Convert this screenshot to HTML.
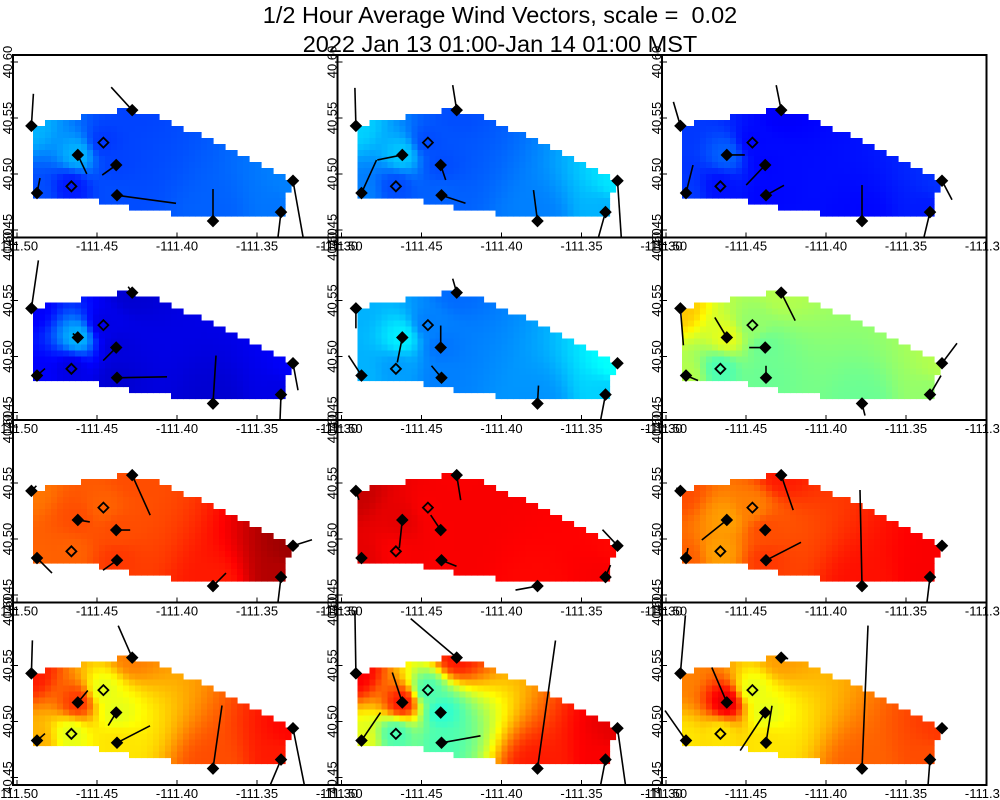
<!DOCTYPE html>
<html><head><meta charset="utf-8"><style>
body{margin:0;background:#fff;}
svg{display:block;font-family:"Liberation Sans",sans-serif;}
</style></head><body>
<svg id="chart" width="1000" height="800" viewBox="0 0 1000 800">
<text x="500" y="23" text-anchor="middle" font-size="23.5" xml:space="preserve">1/2 Hour Average Wind Vectors, scale =  0.02</text>
<text x="500" y="52" text-anchor="middle" font-size="23.5">2022 Jan 13 01:00-Jan 14 01:00 MST</text>
<g id="panels"></g>
</svg>
<script>
const stationLons=[-111.491,-111.428,-111.446,-111.462,-111.438,-111.466,-111.4875,-111.4375,-111.3775,-111.335,-111.3275];
const stationLats=[40.543,40.557,40.528,40.517,40.508,40.489,40.483,40.481,40.458,40.466,40.494];
const stationFilled=[1,1,0,1,1,0,1,1,1,1,1];
const xTicks=[-111.50,-111.45,-111.40,-111.35,-111.30];
const xTickLabels=["-111.50","-111.45","-111.40","-111.35","-111.30"];
const yTicks=[40.45,40.50,40.55,40.60];
const yTickLabels=["40.45","40.50","40.55","40.60"];
// colour values (0..1 on jet scale) per panel per station
const vals1=[.30,.19,.18,.30,.19,.15,.20,.20,.22,.24,.25];
const vals2=[.33,.20,.20,.32,.20,.20,.25,.22,.25,.30,.35];
const vals3=[.18,.12,.13,.22,.13,.14,.18,.13,.13,.15,.17];
const vals4=[.12,.08,.10,.30,.09,.10,.12,.08,.08,.10,.12];
const vals5=[.30,.23,.25,.36,.24,.28,.30,.25,.27,.33,.38];
const vals6=[.68,.55,.52,.60,.48,.45,.55,.48,.48,.52,.55];
const vals7=[.76,.80,.78,.80,.80,.78,.78,.82,.85,.95,.97];
const vals8=[.93,.88,.88,.90,.88,.88,.90,.88,.87,.88,.87];
const vals9=[.80,.85,.75,.72,.80,.72,.78,.82,.86,.88,.88];
const vals10=[.85,.75,.60,.82,.60,.60,.70,.65,.80,.85,.87];
const vals11=[.88,.85,.45,.85,.42,.45,.60,.45,.85,.88,.90];
const vals12=[.75,.72,.60,.90,.60,.65,.65,.65,.78,.80,.82];
const panelVals=[vals1,vals2,vals3,vals4,vals5,vals6,vals7,vals8,vals9,vals10,vals11,vals12];
// wind vector components (screen units) per panel per station
const u1=[2,-21,0,9,-14,0,3,59,0,-3,10], v1=[-32,-23,0,19,10,0,-15,8,-32,25,56];
const u2=[-1,-4,0,-25,5,0,15,24,-4,-7,4], v2=[-38,-25,0,5,15,0,-33,8,-31,25,60];
const u3=[-7,-5,0,18,-19,0,7,18,0,-6,10], v3=[-24,-25,0,0,20,0,-28,-10,-36,25,19];
const u4=[7,-4,0,-5,-13,0,8,50,3,-1,5], v4=[-48,-6,0,-4,13,0,-7,-1,-48,26,27];
const u5=[0,-4,0,-5,0,0,-13,-10,1,-5,2], v5=[20,-14,0,25,-22,0,-20,-12,-18,26,-3];
const u6=[3,14,0,-12,-16,0,12,0,3,11,15], v6=[37,28,0,-20,0,0,5,-12,12,-19,-20];
const u7=[5,18,0,12,14,0,15,-14,13,-3,19], v7=[-5,40,0,2,0,0,15,10,-13,25,-6];
const u8=[3,4,0,-3,-10,0,0,15,-22,5,-15], v8=[9,25,0,28,-15,0,0,6,4,-12,-16];
const u9=[-4,12,0,-25,0,0,2,35,-2,-3,0], v9=[-3,35,0,20,0,0,-10,-18,-96,25,0];
const u10=[1,-14,0,10,-8,0,8,33,9,-11,12], v10=[-33,-32,0,-12,13,0,-7,-17,-63,26,60];
const u11=[-1,-46,0,-10,0,0,19,39,18,-5,8], v11=[-63,-39,0,-30,0,0,-28,-7,-128,26,57];
const u12=[5,7,0,-15,-25,0,-21,6,6,-2,0], v12=[-58,1,0,-35,38,0,-30,-37,-143,26,0];
const panelU=[u1,u2,u3,u4,u5,u6,u7,u8,u9,u10,u11,u12];
const panelV=[v1,v2,v3,v4,v5,v6,v7,v8,v9,v10,v11,v12];

const NS="http://www.w3.org/2000/svg";
const COLW=324.5, ROWH=182.5;
function xScale(lon,col){return 17+col*COLW+(lon+111.5)*1600;}
function yScale(lat,row){return 174+row*ROWH-(lat-40.5)*1120;}
function jet(t){t=Math.max(0,Math.min(1,t));
 const r=Math.max(0,Math.min(1,1.5-Math.abs(4*t-3)));
 const g=Math.max(0,Math.min(1,1.5-Math.abs(4*t-2)));
 const b=Math.max(0,Math.min(1,1.5-Math.abs(4*t-1)));
 return `rgb(${Math.round(r*255)},${Math.round(g*255)},${Math.round(b*255)})`;}
const poly=[[35,125],[60,121],[100,114],[125,110],[145,112],[200,135],[290,179],[290,195],[283,195],[283,214],[200,215],[160,212],[120,205],[80,198],[50,196],[35,195]];
function inside(x,y){let c=false;for(let i=0,j=poly.length-1;i<poly.length;j=i++){const [xi,yi]=poly[i],[xj,yj]=poly[j];
 if(((yi>y)!=(yj>y))&&(x<(xj-xi)*(y-yi)/(yj-yi)+xi))c=!c;}return c;}
function mk(tag,attrs,parent){const e=document.createElementNS(NS,tag);for(const k in attrs)e.setAttribute(k,attrs[k]);parent.appendChild(e);return e;}

const root=document.getElementById('panels');
const defs=mk('defs',{},root);
for(let p=0;p<12;p++){
 const col=p%3,row=Math.floor(p/3);
 const fx=13+col*COLW, fy=55+row*ROWH;
 const cp=mk('clipPath',{id:'cp'+p},defs);
 mk('rect',{x:fx,y:fy,width:COLW,height:ROWH},cp);
 const g=mk('g',{'clip-path':`url(#cp${p})`},root);
 
 
 const vals=panelVals[p];
 const sx=stationLons.map(l=>xScale(l,0)), sy=stationLats.map(l=>yScale(l,0));
 const hm=mk('g',{},g);
 
 
 const cs=6;
 for(let y=108;y<220;y+=cs){for(let x=33;x<294;x+=cs){
  const cx=x+cs/2,cy=y+cs/2; if(!inside(cx,cy))continue;
  let num=0,den=0;
  for(let s=0;s<vals.length;s++){const d2=(cx-sx[s])**2+(cy-sy[s])**2+1;const w=1/Math.pow(d2,1.6);num+=w*vals[s];den+=w;}
  const r=mk('rect',{x:x+col*COLW,y:y+row*ROWH,width:cs+0.6,height:cs+0.6,fill:jet(num/den)},hm);
  
  
 }}
 for(let s=0;s<stationLons.length;s++){
  const x=xScale(stationLons[s],col), y=yScale(stationLats[s],row);
  const du=panelU[p][s], dv=panelV[p][s];
  if(du||dv){const l=mk('line',{x1:x,y1:y,x2:x+du,y2:y+dv,stroke:'#000','stroke-width':1.6},g);
   
   }
 }
 for(let s=0;s<stationLons.length;s++){
  const x=xScale(stationLons[s],col), y=yScale(stationLats[s],row);
  const d=mk('path',{d:`M${x-5},${y}L${x},${y-5}L${x+5},${y}L${x},${y+5}Z`,fill:stationFilled[s]?'#000':'none',stroke:'#000','stroke-width':1.8},g);
  
  
 }
 const fr=mk('rect',{x:fx,y:fy,width:COLW,height:ROWH,fill:'none',stroke:'#000','stroke-width':2},root);
 
 
 for(let i=0;i<xTicks.length;i++){
  const x=xScale(xTicks[i],col);
  mk('line',{x1:x,y1:fy+ROWH,x2:x,y2:fy+ROWH-5,stroke:'#000','stroke-width':1},root);
  const t=mk('text',{x:x,y:fy+ROWH+13,'text-anchor':'middle','font-size':13},root);
  t.textContent=xTickLabels[i];
  
  
 }
 for(let i=0;i<yTicks.length;i++){
  const y=yScale(yTicks[i],row);
  mk('line',{x1:fx,y1:y,x2:fx+5,y2:y,stroke:'#000','stroke-width':1},root);
  const tx=fx-1;
  const t=mk('text',{x:tx,y:y,'text-anchor':'middle','font-size':13,transform:`rotate(-90 ${tx} ${y})`},root);
  t.textContent=yTickLabels[i];
  
  
 }
}
</script>
</body></html>
